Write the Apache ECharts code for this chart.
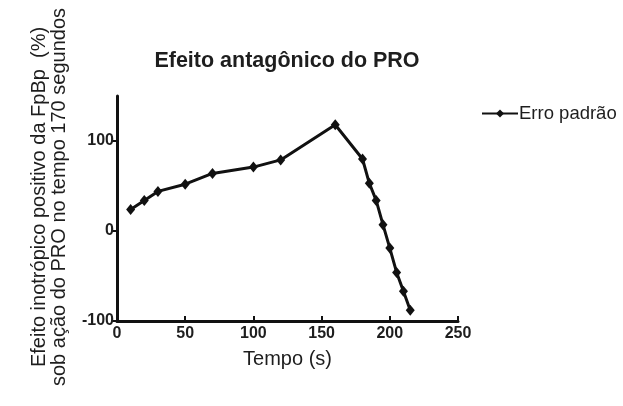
<!DOCTYPE html>
<html>
<head>
<meta charset="utf-8">
<script src="https://cdn.jsdelivr.net/npm/echarts@6/dist/echarts.min.js"></script>
<style>html,body{margin:0;padding:0;background:#fff}#c{width:623px;height:406px}</style>
</head>
<body>
<div id="c"></div>
<script>
var tempo = [10, 20, 30, 50, 70, 100, 120, 160, 180, 185, 190, 195, 200, 205, 210, 215];
var efeito = [24, 34, 44, 52, 64, 71, 79, 118, 80, 53, 34, 7, -19, -46, -67, -88];
var xTicks = [0, 50, 100, 150, 200, 250];
var yTicks = [-100, 0, 100];
var seriesName = 'Erro padrão';
var titleText = 'Efeito antagônico do PRO';
var xName = 'Tempo (s)';
var yNameLines = ['Efeito inotrópico positivo da FpBp  (%)', 'sob ação do PRO no tempo 170 segundos'];

var font = '"Liberation Sans", Arial, sans-serif';
var chart = echarts.init(document.getElementById('c'), null, {renderer: 'canvas'});
chart.setOption({
  backgroundColor: '#ffffff',
  animation: false,
  textStyle: {fontFamily: font},
  title: {
    text: titleText,
    left: 282, top: 45, textAlign: 'center',
    textStyle: {fontFamily: font, fontSize: 21.5, fontWeight: 'bold', color: '#1e1e1e'}
  },
  legend: {
    left: 476, top: 99,
    itemWidth: 36, itemHeight: 10, itemGap: 6,
    textStyle: {fontFamily: font, fontSize: 18.5, color: '#1e1e1e', padding: [0, 0, 0, -4]},
    data: [seriesName]
  },
  grid: {left: 117, right: 165, top: 96, bottom: 85, containLabel: false},
  xAxis: {
    type: 'value', min: 0, max: 250, interval: 50,
    name: xName, nameLocation: 'middle', nameGap: 28,
    nameTextStyle: {fontFamily: font, fontSize: 20, color: '#1e1e1e'},
    axisLine: {onZero: false, lineStyle: {color: '#111', width: 3}},
    axisTick: {inside: true, length: 5, lineStyle: {color: '#111', width: 2}},
    axisLabel: {fontFamily: font, fontSize: 16, fontWeight: 'bold', color: '#1e1e1e', margin: 5},
    splitLine: {show: false}
  },
  yAxis: {
    type: 'value', min: -100, max: 150,
    axisLine: {onZero: false, lineStyle: {color: '#111', width: 3}},
    axisTick: {length: 5, lineStyle: {color: '#111', width: 2}, customValues: yTicks},
    axisLabel: {fontFamily: font, fontSize: 16, fontWeight: 'bold', color: '#1e1e1e', margin: 3, customValues: yTicks},
    splitLine: {show: false}
  },
  graphic: [{
    type: 'text',
    x: 49, y: 197, rotation: Math.PI / 2,
    style: {
      text: yNameLines.join('\n'),
      fontFamily: font, fontSize: 20, lineHeight: 20,
      fill: '#1e1e1e', align: 'center', verticalAlign: 'middle'
    }
  }],
  series: [{
    name: seriesName,
    type: 'line',
    data: tempo.map(function (t, i) { return [t, efeito[i]]; }),
    symbol: 'diamond', symbolSize: [9, 11],
    lineStyle: {color: '#111', width: 3},
    itemStyle: {color: '#111'}
  }]
});
</script>
</body>
</html>
